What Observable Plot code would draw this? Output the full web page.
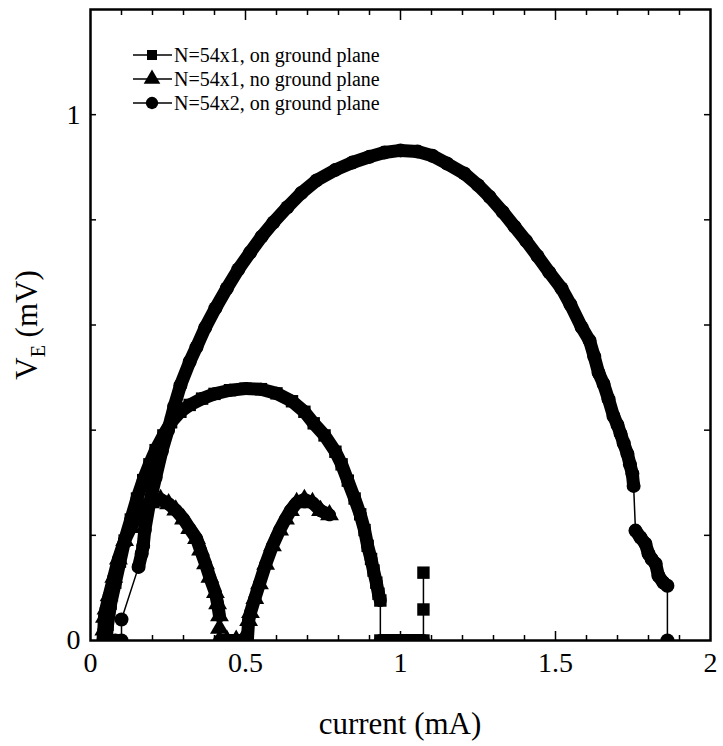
<!DOCTYPE html>
<html><head><meta charset="utf-8">
<script src="https://cdn.jsdelivr.net/npm/d3@7"></script>
<script src="https://cdn.jsdelivr.net/npm/@observablehq/plot@0.6"></script>
<style>body{margin:0;background:#fff} svg{display:block}</style>
</head><body><div id="chart"></div>
<script>
// ---- data ----
const seriesNames = ["N=54x1, on ground plane", "N=54x1, no ground plane", "N=54x2, on ground plane"];
const seriesSymbols = ["square", "triangle", "circle"];

// N=54x1, on ground plane (squares)
const sqI = [0.05,0.055,0.065,0.08,0.095,0.11,0.13,0.15,0.17,0.19,0.21,0.235,0.26,0.29,0.32,0.36,0.40,0.45,0.50,0.55,0.60,0.65,0.69,0.72,0.755,0.79,0.81,0.83,0.852,0.87,0.884,0.894,0.905,0.913,0.922,0.929,0.935,0.935,0.96,0.99,1.02,1.05,1.074,1.074,1.074];
const sqV = [0,0.03,0.07,0.11,0.15,0.19,0.23,0.27,0.305,0.335,0.362,0.39,0.415,0.435,0.448,0.46,0.469,0.476,0.479,0.478,0.470,0.455,0.435,0.413,0.39,0.359,0.335,0.304,0.27,0.24,0.21,0.18,0.155,0.133,0.11,0.089,0.076,0,0,0,0,0,0,0.059,0.129];

// N=54x1, no ground plane (triangles)
const triI = [0.04,0.043,0.045,0.05,0.06,0.075,0.09,0.11,0.13,0.15,0.17,0.194,0.226,0.252,0.275,0.30,0.32,0.342,0.355,0.371,0.385,0.403,0.41,0.416,0.416,0.416,0.44,0.47,0.49,0.506,0.51,0.516,0.53,0.545,0.565,0.587,0.61,0.629,0.645,0.665,0.69,0.716,0.742,0.771];
const triV = [0,0.02,0.044,0.06,0.085,0.12,0.155,0.19,0.215,0.235,0.25,0.262,0.268,0.26,0.248,0.231,0.213,0.194,0.172,0.146,0.12,0.091,0.07,0.047,0.023,0,0,0,0,0,0.038,0.053,0.08,0.108,0.145,0.18,0.21,0.231,0.247,0.262,0.268,0.262,0.247,0.239];

// N=54x2, on ground plane (circles)
const cirI = [0.08,0.10,0.10,0.155,0.165,0.17,0.175,0.19,0.21,0.23,0.25,0.27,0.29,0.32,0.342,0.37,0.403,0.44,0.477,0.515,0.552,0.59,0.635,0.68,0.729,0.79,0.845,0.90,0.948,1.00,1.055,1.103,1.15,1.206,1.25,1.287,1.33,1.368,1.405,1.442,1.48,1.519,1.548,1.584,1.61,1.625,1.639,1.655,1.671,1.687,1.70,1.71,1.72,1.732,1.74,1.748,1.752,1.758,1.774,1.79,1.80,1.81,1.823,1.832,1.848,1.861,1.861];
const cirV = [0,0,0.04,0.14,0.165,0.18,0.21,0.26,0.31,0.36,0.40,0.445,0.485,0.53,0.558,0.595,0.632,0.67,0.706,0.738,0.768,0.795,0.824,0.851,0.875,0.895,0.909,0.92,0.928,0.932,0.930,0.922,0.907,0.888,0.866,0.844,0.815,0.787,0.76,0.731,0.70,0.670,0.639,0.596,0.57,0.54,0.509,0.488,0.459,0.427,0.41,0.393,0.375,0.355,0.335,0.317,0.294,0.209,0.196,0.184,0.165,0.155,0.146,0.123,0.110,0.104,0];

const xTickLabels = [0, 0.5, 1, 1.5, 2];
const yTickLabels = [0, 1];
const xMajorTicks = [0.5, 1, 1.5];
const xMinorTicks = [0.1,0.2,0.3,0.4,0.6,0.7,0.8,0.9,1.1,1.2,1.3,1.4,1.6,1.7,1.8,1.9];
const yTicks = [0.2, 0.4, 0.6, 0.8, 1.0];

// ---- build tables ----
const seriesI = [sqI, triI, cirI];
const seriesV = [sqV, triV, cirV];
const rows = [];
const pairs = [];
seriesI.forEach((I, s) => {
  I.forEach((x, k) => rows.push({s, I: x, V: seriesV[s][k]}));
  for (let k = 1; k < I.length; k++) {
    const dI = Math.abs(I[k] - I[k-1]), dV = Math.abs(seriesV[s][k] - seriesV[s][k-1]);
    if (dI > 0.001 && dI < 0.08 && dV < 0.06) pairs.push({s, I1: I[k-1], V1: seriesV[s][k-1], I2: I[k], V2: seriesV[s][k]});
  }
});

const W = 723, H = 746, mL = 90, mR = 13, mT = 9, mB = 106;
const fw = W - mL - mR, fh = H - mT - mB;
const font = "'Liberation Serif', 'Times New Roman', serif";

const plot = Plot.plot({
  width: W, height: H,
  marginLeft: mL, marginRight: mR, marginTop: mT, marginBottom: mB,
  x: {domain: [0, 2]},
  y: {domain: [0, 1.2]},
  style: {fontFamily: font, fontSize: "28px", color: "black", background: "white", overflow: "visible"},
  marks: [
    Plot.tickX(xMinorTicks, {x: d => d, insetTop: fh - 5, strokeWidth: 1.5}),
    Plot.tickX(xMajorTicks, {x: d => d, insetTop: fh - 9, strokeWidth: 1.5}),
    Plot.tickX(xMinorTicks, {x: d => d, insetBottom: fh - 6, strokeWidth: 1.5}),
    Plot.tickX(xMajorTicks, {x: d => d, insetBottom: fh - 11, strokeWidth: 1.5}),
    Plot.tickY(yTicks, {y: d => d, insetRight: fw - 6, strokeWidth: 1.5}),
    Plot.tickY(yTicks, {y: d => d, insetLeft: fw - 6, strokeWidth: 1.5}),
    Plot.axisX(xTickLabels, {tickSize: 0, tickPadding: 12, label: null, fontSize: 28, tickFormat: d => String(d)}),
    Plot.axisY(yTickLabels, {tickSize: 0, tickPadding: 10, label: null, fontSize: 28, tickFormat: d => String(d)}),
    Plot.line(rows, {x: "I", y: "V", z: "s", stroke: "black", strokeWidth: 1.5, clip: true}),
    Plot.link(pairs, {x1: "I1", y1: "V1", x2: "I2", y2: "V2", stroke: "black", strokeWidth: 13, strokeLinecap: "round", clip: true}),
    ...seriesSymbols.map((sym, s) => Plot.dot(rows.filter(d => d.s === s), {x: "I", y: "V", symbol: sym, r: 7, fill: "black", stroke: "none", clip: true})),
    Plot.frame({stroke: "black", strokeWidth: 2.5})
  ]
});

const svg = d3.select(plot);
// x axis title
svg.append("text")
  .attr("x", 400).attr("y", 734)
  .attr("text-anchor", "middle")
  .style("font-family", font).style("font-size", "31px")
  .attr("fill", "black")
  .text("current (mA)");
// y axis title with subscript
const yt = svg.append("text")
  .attr("transform", "translate(37,325) rotate(-90)")
  .attr("text-anchor", "middle")
  .style("font-family", font).style("font-size", "31px")
  .attr("fill", "black");
yt.append("tspan").text("V");
yt.append("tspan").style("font-size", "20px").attr("dy", 8).text("E");
yt.append("tspan").attr("dy", -8).text(" (mV)");

// legend
const lg = svg.append("g").attr("text-anchor", "start");
seriesNames.forEach((name, s) => {
  const cy = 55 + s * 24;
  lg.append("line").attr("x1", 133).attr("x2", 172).attr("y1", cy).attr("y2", cy).attr("stroke", "black").attr("stroke-width", 1.5);
  const symType = [d3.symbolSquare, d3.symbolTriangle, d3.symbolCircle][s];
  lg.append("path").attr("transform", `translate(152,${cy})`).attr("d", d3.symbol(symType, s === 0 ? 100 : 120)()).attr("fill", "black");
  lg.append("text").attr("x", 174).attr("y", cy + 7).attr("text-anchor", "start")
    .style("font-family", font).style("font-size", "20px").attr("fill", "black").text(name);
});

document.getElementById("chart").appendChild(plot);
</script>
</body></html>
